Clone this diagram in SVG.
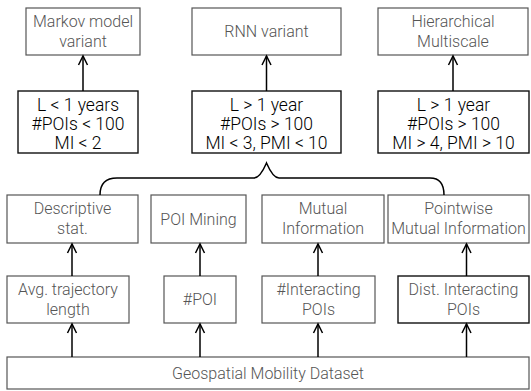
<svg xmlns="http://www.w3.org/2000/svg" width="531" height="391" viewBox="0 0 531 391">
<defs>
<style>
.lb rect{fill:#fff;stroke:#555;stroke-width:1.2}
.lb text{font-family:Roboto,"Liberation Sans",Arial,sans-serif;font-weight:300;font-size:16px;fill:#555;text-anchor:middle}
.cd rect{fill:#fff;stroke:#111;stroke-width:1.4}
.cd text{font-family:Roboto,"Liberation Sans",Arial,sans-serif;font-weight:300;font-size:17.5px;fill:#000;text-anchor:middle}
.ds rect{fill:#fff;stroke:#111;stroke-width:1.4}
.ds text{font-family:Roboto,"Liberation Sans",Arial,sans-serif;font-weight:300;font-size:16px;fill:#555;text-anchor:middle}
#connectors line{stroke:#000;stroke-width:1.5;marker-end:url(#ah)}
#connectors path{fill:none;stroke:#000;stroke-width:1.5}
</style>
<marker id="ah" markerWidth="12" markerHeight="12" refX="10" refY="6" orient="auto" markerUnits="userSpaceOnUse">
<path d="M1,1.5 L10,6 L1,10.5" fill="none" stroke="#000" stroke-width="1.5"/>
</marker>
</defs>
<rect width="531" height="391" fill="#fff"/>
<g id="markov" class="lb"><rect x="26" y="8" width="114" height="47"/><text x="83" y="27">Markov model</text><text x="83" y="47">variant</text></g>
<g id="rnn" class="lb"><rect x="192" y="8" width="149" height="47"/><text x="266.5" y="37">RNN variant</text></g>
<g id="hier" class="lb"><rect x="378" y="8" width="150" height="47"/><text x="453" y="27">Hierarchical</text><text x="453" y="47">Multiscale</text></g>
<g id="cond1" class="cd"><rect x="18" y="91" width="120" height="62"/><text x="78" y="111">L &lt; 1 years</text><text x="78" y="130">#POIs &lt; 100</text><text x="78" y="149">MI &lt; 2</text></g>
<g id="cond2" class="cd"><rect x="192" y="91" width="149" height="62"/><text x="266.5" y="111">L &gt; 1 year</text><text x="266.5" y="130">#POIs &gt; 100</text><text x="266.5" y="149">MI &lt; 3, PMI &lt; 10</text></g>
<g id="cond3" class="cd"><rect x="378" y="91" width="151" height="62"/><text x="453.5" y="111">L &gt; 1 year</text><text x="453.5" y="130">#POIs &gt; 100</text><text x="453.5" y="149">MI &gt; 4, PMI &gt; 10</text></g>
<g id="desc" class="lb"><rect x="7" y="195" width="131" height="48"/><text x="72.5" y="214">Descriptive</text><text x="72.5" y="234">stat.</text></g>
<g id="poimining" class="lb"><rect x="151" y="195" width="95" height="48"/><text x="198.5" y="225">POI Mining</text></g>
<g id="mi" class="lb"><rect x="262" y="195" width="122" height="48"/><text x="323" y="214">Mutual</text><text x="323" y="234">Information</text></g>
<g id="pmi" class="lb"><rect x="388" y="195" width="141" height="48"/><text x="458.5" y="214">Pointwise</text><text x="458.5" y="234">Mutual Information</text></g>
<g id="avg" class="lb"><rect x="7" y="276" width="122" height="47"/><text x="68" y="295">Avg. trajectory</text><text x="68" y="315">length</text></g>
<g id="npoi" class="lb"><rect x="164" y="276" width="72" height="47"/><text x="200" y="305">#POI</text></g>
<g id="ninter" class="lb"><rect x="262" y="276" width="113" height="47"/><text x="318.5" y="295">#Interacting</text><text x="318.5" y="315">POIs</text></g>
<g id="dist" class="ds"><rect x="398" y="276" width="131" height="47"/><text x="463.5" y="295">Dist. Interacting</text><text x="463.5" y="315">POIs</text></g>
<g id="geo" class="lb"><rect x="7" y="357" width="522" height="32"/><text x="268" y="379">Geospatial Mobility Dataset</text></g>
<g id="connectors">
<line x1="83" y1="91" x2="83" y2="56"/>
<line x1="266.5" y1="91" x2="266.5" y2="56"/>
<line x1="453" y1="91" x2="453" y2="56"/>
<line x1="72" y1="276" x2="72" y2="244"/>
<line x1="200" y1="276" x2="200" y2="244"/>
<line x1="318" y1="276" x2="318" y2="244"/>
<line x1="466.5" y1="276" x2="466.5" y2="244"/>
<line x1="72" y1="357" x2="72" y2="324"/>
<line x1="200" y1="357" x2="200" y2="324"/>
<line x1="318" y1="357" x2="318" y2="324"/>
<line x1="466.5" y1="357" x2="466.5" y2="324"/>
<path d="M100,195 Q100,178 117,178 L254,178 Q260,178 266.5,163 Q273,178 279,178 L430,178 Q444,178 444,195"/>
</g>
</svg>
